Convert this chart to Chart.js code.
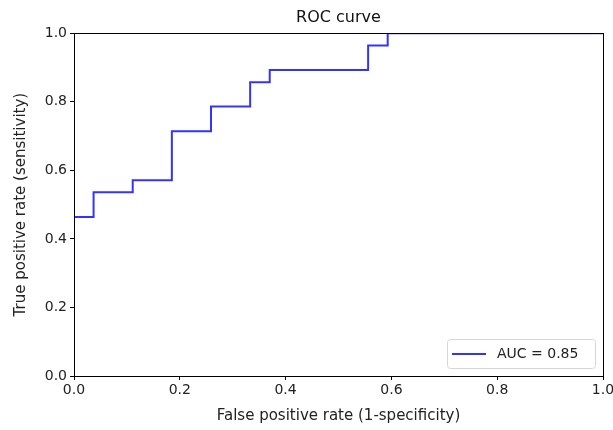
<!DOCTYPE html>
<html><head><meta charset="utf-8">
<script src="https://cdn.jsdelivr.net/npm/chart.js@4"></script>
<style>html,body{margin:0;padding:0;background:#fff}#wrap{width:613px;height:430px}</style>
</head><body><div id="wrap"><canvas id="c" width="613" height="430"></canvas></div>
<script>
const fpr = [0, 0, 0.037, 0.037, 0.111, 0.111, 0.185, 0.185, 0.259, 0.259, 0.333, 0.333, 0.370, 0.370, 0.556, 0.556, 0.593, 0.593, 1.0];
const tpr = [0, 0.464, 0.464, 0.536, 0.536, 0.571, 0.571, 0.714, 0.714, 0.786, 0.786, 0.857, 0.857, 0.893, 0.893, 0.964, 0.964, 1.0, 1.0];
const seriesLabel = 'AUC = 0.85';
const titleText = 'ROC curve';
const xTitle = 'False positive rate (1-specificity)';
const yTitle = 'True positive rate (sensitivity)';
const FONT = '"DejaVu Sans", sans-serif';

const framePlugin = {
  id: 'frame',
  afterDatasetsDraw(chart) {
    const {ctx, chartArea: a} = chart;
    ctx.save();
    ctx.strokeStyle = '#000';
    ctx.lineWidth = 1;
    ctx.strokeRect(Math.round(a.left) + 0.5, Math.round(a.top) + 0.5, Math.round(a.right - a.left), Math.round(a.bottom - a.top));
    // legend
    const ds = chart.data.datasets[0];
    const w = 148, h = 29;
    const x = a.right - 8 - w, y = a.bottom - 8 - h;
    ctx.fillStyle = 'rgba(255,255,255,0.8)';
    ctx.strokeStyle = '#d6d6d6';
    ctx.beginPath();
    if (ctx.roundRect) ctx.roundRect(x + 0.5, y + 0.5, w, h, 3); else ctx.rect(x + 0.5, y + 0.5, w, h);
    ctx.fill(); ctx.stroke();
    ctx.strokeStyle = ds.borderColor;
    ctx.lineWidth = 2;
    ctx.beginPath();
    ctx.moveTo(x + 5, y + h / 2 + 0.5);
    ctx.lineTo(x + 39, y + h / 2 + 0.5);
    ctx.stroke();
    ctx.fillStyle = '#222';
    ctx.font = '14px ' + FONT;
    ctx.textBaseline = 'middle';
    ctx.fillText(ds.label, x + 50, y + h / 2 + 1);
    ctx.restore();
  }
};

new Chart(document.getElementById('c'), {
  type: 'scatter',
  data: {
    datasets: [{
      label: seriesLabel,
      data: fpr.map((v, i) => ({x: v, y: tpr[i]})),
      showLine: true,
      borderColor: 'rgba(0,0,255,0.8)',
      borderWidth: 2,
      pointRadius: 0,
      fill: false,
      tension: 0
    }]
  },
  options: {
    responsive: false,
    animation: false,
    layout: {padding: {left: 0, right: 10, top: 0, bottom: 0}},
    plugins: {
      legend: {display: false},
      tooltip: {enabled: false},
      title: {
        display: true, text: titleText, fullSize: false,
        color: '#111', font: {family: FONT, size: 16, weight: 'normal'},
        padding: {top: 8, bottom: 6}
      }
    },
    scales: {
      x: {
        type: 'linear', min: 0, max: 1,
        afterFit(s) { s.height = 54; s.paddingRight = 0; s.paddingLeft = 0; },
        ticks: {stepSize: 0.2, color: '#222', font: {family: FONT, size: 14}, padding: 2,
          callback: v => v.toFixed(1), maxRotation: 0},
        grid: {display: true, drawOnChartArea: false, drawTicks: true, tickLength: 4, color: '#000'},
        border: {display: false},
        title: {display: true, text: xTitle, color: '#222', font: {family: FONT, size: 15}, padding: {top: 0, bottom: 5}}
      },
      y: {
        type: 'linear', min: 0, max: 1,
        afterFit(s) { s.width = 74; },
        ticks: {stepSize: 0.2, color: '#222', font: {family: FONT, size: 14}, padding: 3,
          callback: v => v.toFixed(1)},
        grid: {display: true, drawOnChartArea: false, drawTicks: true, tickLength: 4, color: '#000'},
        border: {display: false},
        title: {display: true, text: yTitle, color: '#222', font: {family: FONT, size: 15}, padding: {top: 12, bottom: 0}}
      }
    }
  },
  plugins: [framePlugin]
});
</script>
</body></html>
